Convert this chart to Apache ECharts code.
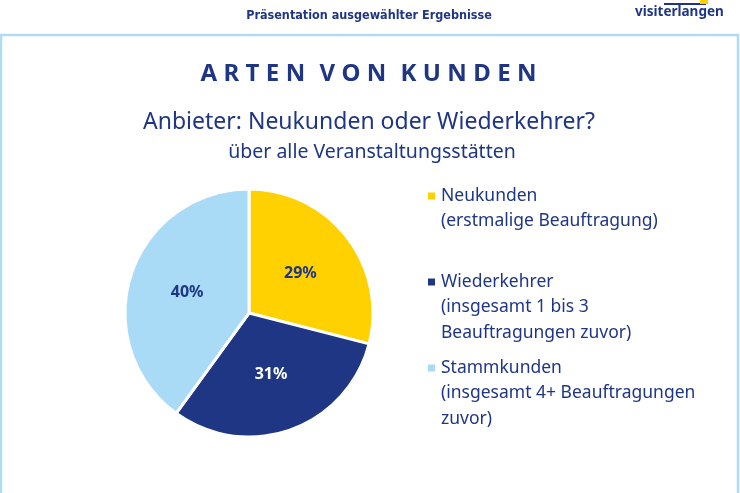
<!DOCTYPE html>
<html>
<head>
<meta charset="utf-8">
<script src="https://cdn.jsdelivr.net/npm/echarts@6/dist/echarts.min.js"></script>
<style>
    html, body { margin: 0; padding: 0; background: #fff; }
    #chart { width: 740px; height: 493px; }
</style>
</head>
<body>
<div id="chart"></div>
<script>
// Daten
const categories = ['Neukunden', 'Wiederkehrer', 'Stammkunden'];
const descriptions = [
    ['(erstmalige Beauftragung)'],
    ['(insgesamt 1 bis 3', 'Beauftragungen zuvor)'],
    ['(insgesamt 4+ Beauftragungen', 'zuvor)']
];
const shares = [29, 31, 40];

const colors = ['#ffd100', '#1f3684', '#a9dbf7'];
const labelColors = ['#1f3684', '#ffffff', '#1f3684'];
const navy = '#1f3684';
const textFont = '"Noto Sans", "Open Sans", sans-serif';

// Legende: Icon-Mitte je Eintrag (erste Zeile)
const legendIconY = [196, 282, 368];
const legendLine = 25.5;

// gesperrte Ueberschrift (Buchstaben mit schmalen Leerzeichen)
const spaced = s => s.split(' ').map(w => w.split('').join('\u2009\u200A')).join('\u2009 \u2009');

const chart = echarts.init(document.getElementById('chart'));

// ein Legenden-Block pro Kategorie; leere Zeilen oben schieben die erste Zeile auf Icon-Hoehe
const legends = categories.map((name, i) => {
    const lines = 1 + descriptions[i].length;
    return {
        orient: 'vertical',
        left: 426,
        top: legendIconY[i] - (2 * lines - 1) * legendLine / 2,
        padding: 0,
        itemWidth: 9,
        itemHeight: 9,
        selectedMode: false,
        icon: 'rect',
        data: [name],
        formatter: n => {
            const desc = descriptions[categories.indexOf(n)];
            return Array(desc.length).fill(' ').concat([n], desc).join('\n');
        },
        textStyle: {
            color: navy,
            fontFamily: textFont,
            fontSize: 17.5,
            lineHeight: legendLine
        }
    }
})

const option = {
    backgroundColor: '#fff',
    color: colors,
    animation: false,
    title: [
        {
            text: 'Präsentation ausgewählter Ergebnisse',
            left: 369, top: 9, padding: 0, textAlign: 'center',
            textStyle: { color: navy, fontSize: 12.5, fontWeight: 'bold', fontFamily: '"Liberation Sans Narrow", "DejaVu Sans Condensed", sans-serif' }
        },
        {
            text: '{a|visit}{b|erlangen}',
            left: 635, top: 5, padding: 0,
            textStyle: {
                rich: {
                    a: { color: navy, fontSize: 13.5, fontFamily: textFont },
                    b: { color: navy, fontSize: 13.5, fontWeight: 'bold', fontFamily: textFont }
                }
            }
        },
        {
            text: spaced('ARTEN VON KUNDEN'),
            left: 368.5, top: 62.5, padding: 0, textAlign: 'center',
            textStyle: { color: navy, fontSize: 24, fontWeight: 'bold', fontFamily: textFont }
        },
        {
            text: 'Anbieter: Neukunden oder Wiederkehrer?',
            left: 369, top: 111, padding: 0, textAlign: 'center',
            textStyle: { color: navy, fontSize: 23, fontWeight: 'normal', fontFamily: textFont }
        },
        {
            text: 'über alle Veranstaltungsstätten',
            left: 372, top: 142, padding: 0, textAlign: 'center',
            textStyle: { color: navy, fontSize: 19.5, fontWeight: 'normal', fontFamily: textFont }
        }
    ],
    legend: legends,
    graphic: [
        {
            type: 'rect',
            shape: { x: 1, y: 35, width: 737, height: 470 },
            style: { fill: 'none', stroke: '#b0dbf6', lineWidth: 2.5 },
            silent: true
        },
        {
            type: 'rect',
            shape: { x: 664, y: 3, width: 42, height: 2 },
            style: { fill: navy },
            silent: true
        },
        {
            type: 'rect',
            shape: { x: 700, y: 0, width: 8, height: 4 },
            style: { fill: '#ffd100' },
            silent: true
        }
    ],
    series: [{
        type: 'pie',
        center: [249, 313],
        radius: 124,
        startAngle: 90,
        clockwise: true,
        silent: true,
        itemStyle: { borderColor: '#fff', borderWidth: 3 },
        label: {
            position: 'inside',
            formatter: '{c}%',
            fontSize: 16,
            fontWeight: 'bold',
            fontFamily: textFont
        },
        labelLine: { show: false },
        data: categories.map((name, i) => ({
            name,
            value: shares[i],
            label: { color: labelColors[i] }
        }))
    }]
}

chart.setOption(option);
</script>
</body>
</html>
